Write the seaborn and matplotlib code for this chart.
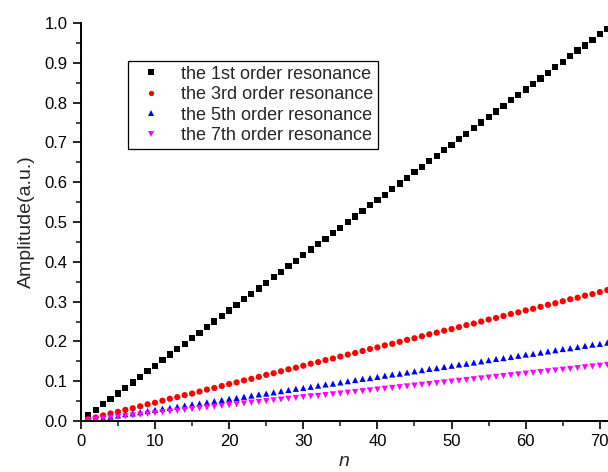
import pandas as pd
import matplotlib
matplotlib.use("Agg")
import matplotlib.pyplot as plt
import seaborn as sns
from matplotlib.ticker import MultipleLocator

# data
n = list(range(1, 72))
first = [0.014, 0.028, 0.042, 0.056, 0.069, 0.083, 0.097, 0.111, 0.125, 0.139,
         0.153, 0.167, 0.181, 0.194, 0.208, 0.222, 0.236, 0.250, 0.264, 0.278,
         0.292, 0.306, 0.319, 0.333, 0.347, 0.361, 0.375, 0.389, 0.403, 0.417,
         0.431, 0.444, 0.458, 0.472, 0.486, 0.500, 0.514, 0.528, 0.542, 0.556,
         0.569, 0.583, 0.597, 0.611, 0.625, 0.639, 0.653, 0.667, 0.681, 0.694,
         0.708, 0.722, 0.736, 0.750, 0.764, 0.778, 0.792, 0.806, 0.819, 0.833,
         0.847, 0.861, 0.875, 0.889, 0.903, 0.917, 0.931, 0.944, 0.958, 0.972,
         0.986]
third = [0.005, 0.009, 0.014, 0.019, 0.023, 0.028, 0.032, 0.037, 0.042, 0.046,
         0.051, 0.056, 0.060, 0.065, 0.069, 0.074, 0.079, 0.083, 0.088, 0.093,
         0.097, 0.102, 0.106, 0.111, 0.116, 0.120, 0.125, 0.130, 0.134, 0.139,
         0.144, 0.148, 0.153, 0.157, 0.162, 0.167, 0.171, 0.176, 0.181, 0.185,
         0.190, 0.194, 0.199, 0.204, 0.208, 0.213, 0.218, 0.222, 0.227, 0.231,
         0.236, 0.241, 0.245, 0.250, 0.255, 0.259, 0.264, 0.269, 0.273, 0.278,
         0.282, 0.287, 0.292, 0.296, 0.301, 0.306, 0.310, 0.315, 0.319, 0.324,
         0.329]
fifth = [0.003, 0.006, 0.008, 0.011, 0.014, 0.017, 0.019, 0.022, 0.025, 0.028,
         0.031, 0.033, 0.036, 0.039, 0.042, 0.044, 0.047, 0.050, 0.053, 0.056,
         0.058, 0.061, 0.064, 0.067, 0.069, 0.072, 0.075, 0.078, 0.081, 0.083,
         0.086, 0.089, 0.092, 0.094, 0.097, 0.100, 0.103, 0.106, 0.108, 0.111,
         0.114, 0.117, 0.119, 0.122, 0.125, 0.128, 0.131, 0.133, 0.136, 0.139,
         0.142, 0.144, 0.147, 0.150, 0.153, 0.156, 0.158, 0.161, 0.164, 0.167,
         0.169, 0.172, 0.175, 0.178, 0.181, 0.183, 0.186, 0.189, 0.192, 0.194,
         0.197]
seventh = [0.002, 0.004, 0.006, 0.008, 0.010, 0.012, 0.014, 0.016, 0.018, 0.020,
           0.022, 0.024, 0.026, 0.028, 0.030, 0.032, 0.034, 0.036, 0.038, 0.040,
           0.042, 0.044, 0.046, 0.048, 0.050, 0.052, 0.054, 0.056, 0.058, 0.060,
           0.062, 0.063, 0.065, 0.067, 0.069, 0.071, 0.073, 0.075, 0.077, 0.079,
           0.081, 0.083, 0.085, 0.087, 0.089, 0.091, 0.093, 0.095, 0.097, 0.099,
           0.101, 0.103, 0.105, 0.107, 0.109, 0.111, 0.113, 0.115, 0.117, 0.119,
           0.121, 0.123, 0.125, 0.127, 0.129, 0.131, 0.133, 0.135, 0.137, 0.139,
           0.141]

labels = ["the 1st order resonance", "the 3rd order resonance",
          "the 5th order resonance", "the 7th order resonance"]

df = pd.DataFrame({"n": n, labels[0]: first, labels[1]: third,
                   labels[2]: fifth, labels[3]: seventh})
long = df.melt(id_vars="n", var_name="series", value_name="amp")

sns.set_style("ticks")
plt.rcParams["font.family"] = ["Liberation Sans", "DejaVu Sans"]

fig = plt.figure(figsize=(6.08, 4.72), dpi=100)
ax = fig.add_axes([0.133, 0.108, 0.867, 0.843])

sns.scatterplot(data=long, x="n", y="amp", hue="series", style="series",
                hue_order=labels, style_order=labels,
                palette=["#000000", "#ff0000", "#0000ff", "#ff00ff"],
                markers=["s", "o", "^", "v"], s=20, linewidth=0, ax=ax)

ax.set_xlim(0, 71.1)
ax.set_ylim(0, 1.0)
ax.xaxis.set_major_locator(MultipleLocator(10))
ax.xaxis.set_minor_locator(MultipleLocator(5))
ax.yaxis.set_major_locator(MultipleLocator(0.1))
ax.yaxis.set_minor_locator(MultipleLocator(0.05))
ax.tick_params(which="major", length=5.5, width=1.2, labelsize=12,
               colors="black", pad=4)
ax.tick_params(which="minor", length=3.5, width=1.2)
ax.yaxis.set_major_formatter(matplotlib.ticker.FormatStrFormatter("%.1f"))

for side in ["top", "right"]:
    ax.spines[side].set_visible(False)
for side in ["left", "bottom"]:
    ax.spines[side].set_linewidth(1.4)
    ax.spines[side].set_color("black")

ax.set_xlabel("n", fontsize=14, fontstyle="italic", labelpad=3)
ax.set_ylabel("Amplitude(a.u.)", fontsize=14, labelpad=7)

leg = ax.legend(loc="upper left", bbox_to_anchor=(128 / 608, 1 - 61 / 472),
                bbox_transform=fig.transFigure, borderaxespad=0,
                fontsize=13, fancybox=False, framealpha=1,
                handletextpad=0.7, labelspacing=0.2, borderpad=0.25,
                handlelength=2.0, markerscale=0.85)
leg.get_frame().set_edgecolor("black")
leg.get_frame().set_linewidth(0.9)

fig.savefig("out.png", dpi=100)
